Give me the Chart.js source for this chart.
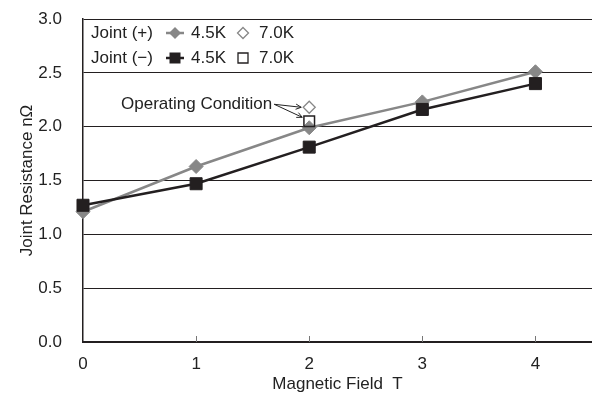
<!DOCTYPE html>
<html>
<head>
<meta charset="utf-8">
<script src="https://cdn.jsdelivr.net/npm/chart.js@4.4.1/dist/chart.umd.min.js"></script>
<style>
  html, body { margin: 0; padding: 0; background: #fff; }
  #wrap { width: 592px; height: 401px; }
</style>
</head>
<body>
<div id="wrap"><canvas id="resChart"></canvas></div>
<script>
// magnetic field (T) and joint resistance (nOhm)
const fieldT = [0, 1, 2, 3, 4];
const plus45K = [1.21, 1.63, 1.99, 2.23, 2.51];
const minus45K = [1.27, 1.47, 1.81, 2.16, 2.40];
// operating condition points at 7.0K
const opField = [2];
const plus70K = [2.18];
const minus70K = [2.05];

const xTicks = [0, 1, 2, 3, 4];
const yTicks = [0, 0.5, 1.0, 1.5, 2.0, 2.5, 3.0];

const GRAY = '#878787';
const BLACK = '#231f20';
const FONT_FAMILY = '"Liberation Sans", Arial, sans-serif';
const FONT = '17px ' + FONT_FAMILY;

function pts(xs, ys) {
  return xs.map((x, i) => ({ x: x, y: ys[i] }));
}

function drawMarker(ctx, style, x, y, r, fill, stroke, lw) {
  ctx.save();
  ctx.beginPath();
  if (style === 'diamond') {
    ctx.moveTo(x, y - r); ctx.lineTo(x + r, y); ctx.lineTo(x, y + r); ctx.lineTo(x - r, y);
    ctx.closePath();
  } else {
    ctx.rect(x - r, y - r, 2 * r, 2 * r);
  }
  if (fill) { ctx.fillStyle = fill; ctx.fill(); }
  if (stroke) { ctx.strokeStyle = stroke; ctx.lineWidth = lw; ctx.stroke(); }
  ctx.restore();
}

function arrow(ctx, x1, y1, x2, y2) {
  const a = Math.atan2(y2 - y1, x2 - x1);
  const h = 6;
  ctx.beginPath();
  ctx.moveTo(x1, y1); ctx.lineTo(x2, y2);
  ctx.moveTo(x2 - h * Math.cos(a - 0.45), y2 - h * Math.sin(a - 0.45));
  ctx.lineTo(x2, y2);
  ctx.lineTo(x2 - h * Math.cos(a + 0.45), y2 - h * Math.sin(a + 0.45));
  ctx.stroke();
}

const extras = {
  id: 'extras',
  afterDraw(chart) {
    const ctx = chart.ctx;
    const xs = chart.scales.x, ys = chart.scales.y;
    const area = chart.chartArea;
    ctx.save();

    // small inner ticks on the x axis
    ctx.strokeStyle = '#777';
    ctx.lineWidth = 1;
    xTicks.slice(1).forEach(v => {
      const px = Math.round(xs.getPixelForValue(v)) + 0.5;
      ctx.beginPath();
      ctx.moveTo(px, area.bottom);
      ctx.lineTo(px, area.bottom - 6);
      ctx.stroke();
    });

    // legend
    ctx.font = FONT;
    ctx.fillStyle = '#222';
    ctx.textBaseline = 'middle';
    ctx.textAlign = 'left';
    const lx = area.left;
    const rows = [
      { name: 'Joint (+)', y: area.top + 14, shape: 'diamond', color: GRAY },
      { name: 'Joint (\u2212)', y: area.top + 39, shape: 'square', color: BLACK }
    ];
    rows.forEach(r => {
      ctx.fillStyle = '#222';
      ctx.fillText(r.name, lx + 8, r.y);
      ctx.strokeStyle = r.color;
      ctx.lineWidth = 2.5;
      ctx.beginPath();
      ctx.moveTo(lx + 83, r.y); ctx.lineTo(lx + 101, r.y);
      ctx.stroke();
      if (r.shape === 'diamond') {
        drawMarker(ctx, 'diamond', lx + 92, r.y, 6, GRAY, null, 0);
        drawMarker(ctx, 'diamond', lx + 160, r.y, 5.5, '#fff', GRAY, 1.3);
      } else {
        drawMarker(ctx, 'square', lx + 92, r.y, 5.5, BLACK, null, 0);
        drawMarker(ctx, 'square', lx + 160, r.y, 5, null, BLACK, 1.3);
      }
      ctx.fillStyle = '#222';
      ctx.fillText('4.5K', lx + 108, r.y);
      ctx.fillText('7.0K', lx + 176, r.y);
    });

    // operating condition annotation
    const px = xs.getPixelForValue(opField[0]);
    const pd = ys.getPixelForValue(plus70K[0]);
    const pq = ys.getPixelForValue(minus70K[0]);
    ctx.textAlign = 'right';
    ctx.fillStyle = '#222';
    ctx.fillText('Operating Condition', px - 37, pd - 3);
    ctx.strokeStyle = '#222';
    ctx.lineWidth = 1;
    arrow(ctx, px - 35, pd - 3, px - 8, pd);
    arrow(ctx, px - 35, pd - 3, px - 7, pq - 4);

    ctx.restore();
  }
};

new Chart(document.getElementById('resChart'), {
  type: 'scatter',
  data: {
    datasets: [
      {
        label: 'Joint (\u2212) 7.0K',
        data: pts(opField, minus70K),
        pointStyle: 'rect',
        pointRadius: 7.5,
        pointBorderWidth: 1.5,
        borderColor: BLACK,
        backgroundColor: 'rgba(0,0,0,0)',
        order: 0
      },
      {
        label: 'Joint (+) 7.0K',
        data: pts(opField, plus70K),
        pointStyle: 'rectRot',
        pointRadius: 6,
        pointBorderWidth: 1.3,
        borderColor: GRAY,
        backgroundColor: '#fff',
        order: 1
      },
      {
        label: 'Joint (\u2212) 4.5K',
        data: pts(fieldT, minus45K),
        showLine: true,
        borderColor: BLACK,
        backgroundColor: BLACK,
        borderWidth: 2.5,
        pointStyle: 'rect',
        pointRadius: 8.5,
        pointBorderWidth: 1,
        order: 2
      },
      {
        label: 'Joint (+) 4.5K',
        data: pts(fieldT, plus45K),
        showLine: true,
        borderColor: GRAY,
        backgroundColor: GRAY,
        borderWidth: 2.5,
        pointStyle: 'rectRot',
        pointRadius: 7,
        pointBorderWidth: 1,
        order: 3
      }
    ]
  },
  options: {
    responsive: true,
    maintainAspectRatio: false,
    animation: false,
    clip: false,
    layout: { autoPadding: false, padding: { top: 19, right: 0, left: 0, bottom: 0 } },
    plugins: { legend: { display: false }, tooltip: { enabled: false } },
    scales: {
      x: {
        type: 'linear',
        min: 0,
        max: 4.5,
        afterBuildTicks: s => { s.ticks = xTicks.map(v => ({ value: v })); },
        afterFit: s => { s.height = 59; s.paddingLeft = 0; s.paddingRight = 0; },
        grid: { display: false, drawTicks: false },
        border: { display: true, color: BLACK, width: 2 },
        ticks: { color: '#222', font: { family: FONT_FAMILY, size: 17 }, padding: 12, maxRotation: 0 },
        title: {
          display: true,
          text: 'Magnetic Field  T',
          color: '#222',
          font: { family: FONT_FAMILY, size: 17 },
          padding: { top: 0, bottom: 6 }
        }
      },
      y: {
        min: 0,
        max: 3,
        afterBuildTicks: s => { s.ticks = yTicks.map(v => ({ value: v })); },
        afterFit: s => { s.width = 83; s.paddingTop = 0; s.paddingBottom = 0; },
        grid: { color: BLACK, lineWidth: 1, drawTicks: false },
        border: { display: true, color: BLACK, width: 1.5 },
        ticks: {
          color: '#222',
          font: { family: FONT_FAMILY, size: 17 },
          padding: 21,
          callback: v => Number(v).toFixed(1)
        },
        title: {
          display: true,
          text: 'Joint Resistance n\u03A9',
          color: '#222',
          font: { family: FONT_FAMILY, size: 17 },
          padding: { top: 17, bottom: 0 }
        }
      }
    }
  },
  plugins: [extras]
});
</script>
</body>
</html>
